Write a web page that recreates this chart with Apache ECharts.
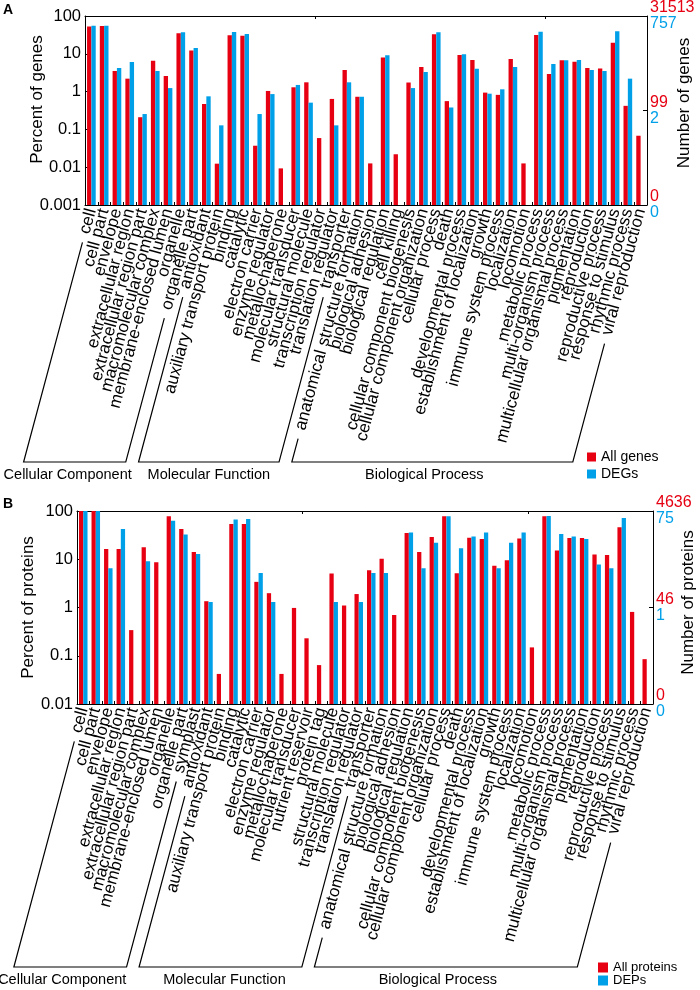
<!DOCTYPE html>
<html><head><meta charset="utf-8">
<script src="https://cdn.jsdelivr.net/npm/echarts@6/dist/echarts.min.js"></script>
<style>html,body{margin:0;padding:0;background:#fff}#c{width:700px;height:990px}</style>
</head><body><div id="c"></div>
<script>
// ---------------- DATA ----------------
const catA = ['cell','cell part','envelope','extracellular region','extracellular region part','macromolecular complex','membrane-enclosed lumen','organelle','organelle part','antioxidant','auxiliary transport protein','binding','catalytic','electron carrier','enzyme regulator','metallochaperone','molecular transducer','structural molecule','transcription regulator','translation regulator','transporter','anatomical structure formation','biological adhesion','biological regulation','cell killing','cellular component biogenesis','cellular component organization','cellular process','death','developmental process','establishment of localization','growth','immune system process','localization','locomotion','metabolic process','multi-organism process','multicellular organismal process','pigmentation','reproduction','reproductive process','response to stimulus','rhythmic process','viral reproduction'];
const allGenes = [53,54,3.5,2.2,0.21,6.5,2.6,35,12.3, 0.47,0.0124,31,30,0.037,1.04,0.0093,1.3,1.76,0.059,0.64,3.7, 0.73,0.0126,8.0,0.022,1.74,4.5,32.7,0.56,9.3,6.9,0.94,0.82,7.3,0.0126,31.4,2.9,6.7,6.2,4.2,4.1,19.7,0.42,0.068];
const degs = [55,55,4.2,6.1,0.255,3.5,1.24,37,14.2, 0.75,0.128,37.7,33.4,0.255,0.86,null,1.5,0.51,null,0.128,1.76, 0.73,null,9.1,null,1.24,3.3,37,0.38,9.7,4.0,0.88,1.15,4.5,null,38.5,5.4,6.7,6.9,3.7,3.5,39.3,2.2,null];
const groupsA = [['Cellular Component',0,8],['Molecular Function',9,20],['Biological Process',21,43]];
const leftTicksA = ['0.001','0.01','0.1','1','10','100'];
const rightRedA = ['0','99','31513'];
const rightBlueA = ['0','2','757'];

const catB = ['cell','cell part','envelope','extracellular region','extracellular region part','macromolecular complex','membrane-enclosed lumen','organelle','organelle part','symplast','antioxidant','auxiliary transport protein','binding','catalytic','electron carrier','enzyme regulator','metallochaperone','molecular transducer','nutrient reservoir','protein tag','structural molecule','transcription regulator','translation regulator','transporter','anatomical structure formation','biological adhesion','biological regulation','cellular component biogenesis','cellular component organization','cellular process','death','developmental process','establishment of localization','growth','immune system process','localization','locomotion','metabolic process','multi-organism process','multicellular organismal process','pigmentation','reproduction','reproductive process','response to stimulus','rhythmic process','viral reproduction'];
const allProteins = [100,100,16.4,16.4,0.34,17.7,8.7,77.6,42.4,14.2, 1.35,0.042,54,54,3.4,1.98,0.042,0.98,0.23,0.064,5.05,1.1,1.9,5.9, 10.3,0.70,35,14.2,29,77.6,5.1,28,26.4,7.3,9.5,27,0.149,77.6,15.1,27.5,27.5,12.5,12.2,46,0.81,0.085];
const deps = [100,100,6.5,42.4,null,9.1,null,63,32.5,12.9, 1.3,null,67,68,5.2,1.3,null,null,null,null,1.3,null,1.3,5.2, 5.2,null,36,6.5,22,77.6,17,29.5,36,6.5,22,36,null,79,33.4,29.5,26.4,7.8,6.5,71.6,null,null];
const groupsB = [['Cellular Component',0,9],['Molecular Function',10,23],['Biological Process',24,45]];
const leftTicksB = ['0.01','0.1','1','10','100'];
const rightRedB = ['0','46','4636'];
const rightBlueB = ['0','1','75'];

// ---------------- STYLE ----------------
const RED = '#E60012', BLUE = '#00A0E9';
const FONT = '"Liberation Sans", Arial, Helvetica, sans-serif';
const ROT = 75, LABEL_SIZE = 17, LABEL_MARGIN = 4, BR_GAP = 9;

const chart = echarts.init(document.getElementById('c'), null, {renderer:'canvas'});

function catAxis(grid, cats, pos, labels) {
  return {
    type:'category', gridIndex:grid, data:cats, position:pos,
    axisLine:{show:true, onZero:false, lineStyle:{color:'#000', width:1}},
    axisTick:{show:true, inside:true, length:3, lineStyle:{color:'#000'}},
    axisLabel: labels ? {show:true, interval:0, rotate:ROT, margin:LABEL_MARGIN, fontSize:LABEL_SIZE, color:'#000', fontFamily:FONT, hideOverlap:false} : {show:false},
    splitLine:{show:false}
  };
}
function logAxis(grid, min, max, name, ticks, gap, shift) {
  const lmin = Math.round(Math.log10(min));
  return {
    type:'log', logBase:10, gridIndex:grid, min:min, max:max, startValue:min, position:'left',
    name:name, nameLocation:'middle', nameGap:gap, nameRotate:90, nameMoveOverlap:false,
    nameTextStyle:{fontSize:17, color:'#000', fontFamily:FONT, padding:[0,0,0,shift]},
    axisLine:{show:true, lineStyle:{color:'#000', width:1}},
    axisTick:{show:true, inside:true, length:3, lineStyle:{color:'#000'}},
    axisLabel:{fontSize:16.5, color:'#000', margin:4, fontFamily:FONT,
      formatter:v => ticks[Math.round(Math.log10(v)) - lmin]},
    splitLine:{show:false}, minorTick:{show:false}
  };
}
function rightAxis(grid, reds, blues, name, gap, shift) {
  return {
    type:'value', gridIndex:grid, min:0, max:2, interval:1, position:'right',
    name:name, nameLocation:'middle', nameGap:gap, nameRotate:90, nameMoveOverlap:false,
    nameTextStyle:{fontSize:17, color:'#000', fontFamily:FONT, padding:[0,0,0,shift]},
    axisLine:{show:true, lineStyle:{color:'#000', width:1}},
    axisTick:{show:true, inside:true, length:4, lineStyle:{color:'#000'}},
    axisLabel:{margin:3, align:'left', fontFamily:FONT,
      formatter:v => { const i = Math.round(v); return '{r|' + reds[i] + '}\n{b|' + blues[i] + '}'; },
      rich:{r:{color:RED, fontSize:16, lineHeight:16, fontFamily:FONT}, b:{color:BLUE, fontSize:16, lineHeight:16, fontFamily:FONT}}},
    splitLine:{show:false}
  };
}
function bar(name, data, color, xi, yi) {
  return {type:'bar', name:name, data:data, xAxisIndex:xi, yAxisIndex:yi,
    barGap:'0%', barCategoryGap:'32%', itemStyle:{color:color}};
}

const option = {
  animation:false,
  textStyle:{fontFamily:FONT},
  grid:[
    {left:85, top:16, width:562, height:189, outerBoundsMode:'none', containLabel:false},
    {left:77, top:511, width:576, height:193, outerBoundsMode:'none', containLabel:false}
  ],
  xAxis:[catAxis(0, catA, 'bottom', true), catAxis(0, catA, 'top', false),
         catAxis(1, catB, 'bottom', true), catAxis(1, catB, 'top', false)],
  yAxis:[logAxis(0, 0.001, 100, 'Percent of genes', leftTicksA, 39, 22),
         rightAxis(0, rightRedA, rightBlueA, 'Number of genes', 29, 15),
         logAxis(1, 0.01, 100, 'Percent of proteins', leftTicksB, 40, 0),
         rightAxis(1, rightRedB, rightBlueB, 'Number of proteins', 27, 10)],
  legend:[
    {data:['All genes','DEGs'], orient:'vertical', left:587, top:450, padding:0, icon:'rect',
     itemWidth:9, itemHeight:9, itemGap:3, textStyle:{fontSize:14, color:'#000', fontFamily:FONT}},
    {data:['All proteins','DEPs'], orient:'vertical', left:598, top:961, padding:0, icon:'rect',
     itemWidth:10, itemHeight:10, itemGap:0, textStyle:{fontSize:13, lineHeight:12, color:'#000', fontFamily:FONT}}
  ],
  series:[bar('All genes', allGenes, RED, 0, 0), bar('DEGs', degs, BLUE, 0, 0),
          bar('All proteins', allProteins, RED, 2, 2), bar('DEPs', deps, BLUE, 2, 2)]
};
chart.setOption(option);

// ------------- group brackets, computed from axis positions -------------
const ctx = document.createElement('canvas').getContext('2d');
ctx.font = LABEL_SIZE + 'px ' + FONT;
const th = ROT * Math.PI / 180, ux = -Math.cos(th), uy = Math.sin(th);
function brackets(xi, yi, minVal, cats, groups, drop, dxs) {
  const axisY = chart.convertToPixel({yAxisIndex:yi}, minVal);
  const baseY = axisY + drop;
  const tip = i => {
    const x = chart.convertToPixel({xAxisIndex:xi}, i);
    const L = ctx.measureText(cats[i]).width + BR_GAP;
    const sx = x + ux * L, sy = axisY + LABEL_MARGIN + uy * L;
    const t = (baseY - sy) / uy;
    return [[sx, sy], [sx + ux * t, baseY]];
  };
  const els = [];
  groups.forEach((g, k) => {
    const a = tip(g[1]), b = tip(g[2]);
    els.push({type:'polyline', shape:{points:[a[0], a[1], b[1], b[0]]},
      style:{stroke:'#000', fill:null, lineWidth:1.2}, silent:true});
    els.push({type:'text', x:(a[1][0] + b[1][0]) / 2 + dxs[k], y:baseY + 13,
      style:{text:g[0], fontSize:14.5, fontFamily:FONT, fill:'#000', align:'center', verticalAlign:'middle', textAlign:'center', textVerticalAlign:'middle'}, silent:true});
  });
  return els;
}
const graphics = [].concat(
  brackets(0, 0, 0.001, catA, groupsA, 257, [-7, 0, -8]),
  brackets(2, 2, 0.01, catB, groupsB, 263, [-8, 4, -8]),
  [{type:'text', x:3, y:3, style:{text:'A', fontSize:14, fontWeight:'bold', fontFamily:FONT, fill:'#000'}},
   {type:'text', x:3, y:497, style:{text:'B', fontSize:14, fontWeight:'bold', fontFamily:FONT, fill:'#000'}}]
);
chart.setOption({graphic:graphics});
</script></body></html>
